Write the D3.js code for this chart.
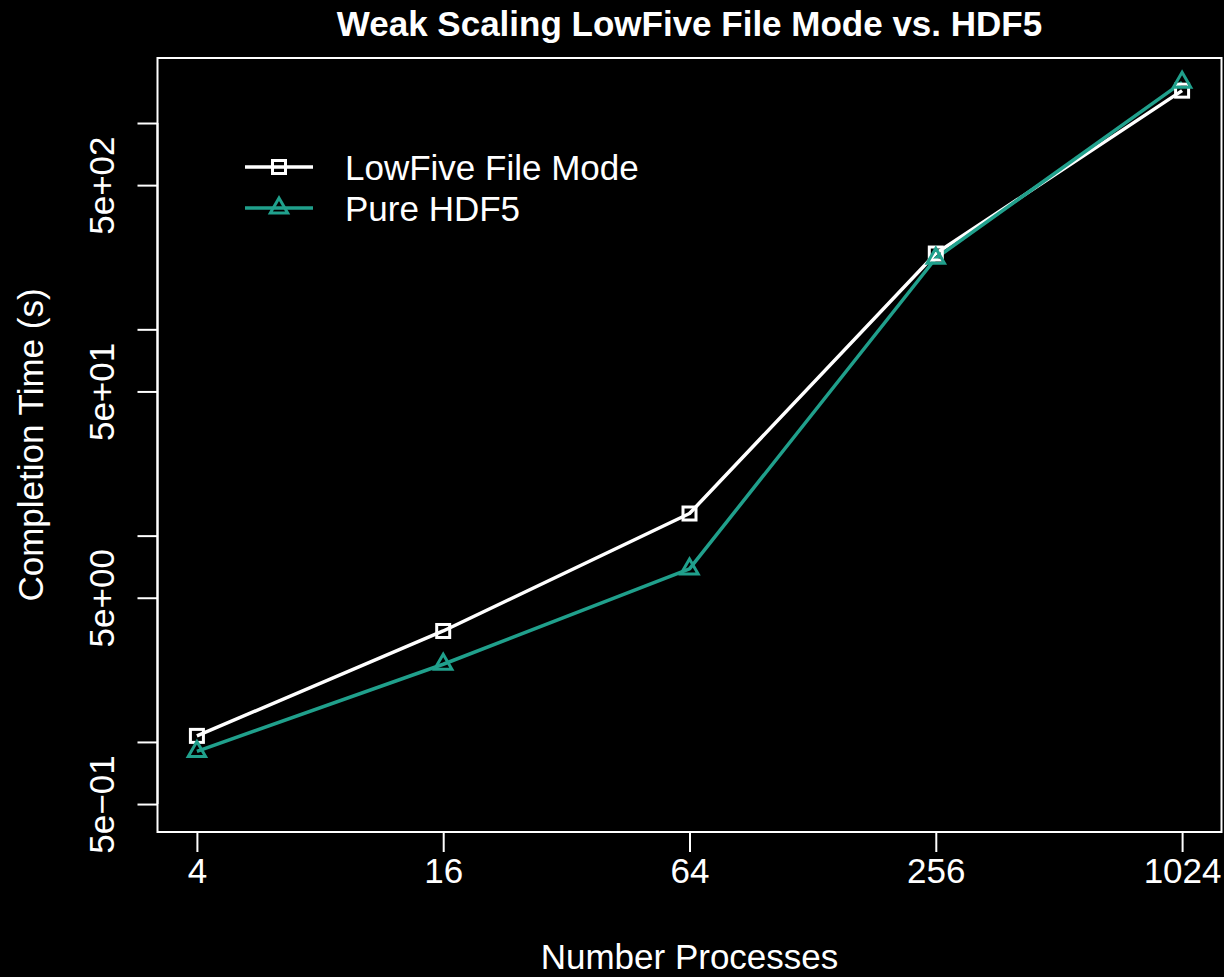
<!DOCTYPE html>
<html>
<head>
<meta charset="utf-8">
<script src="https://cdn.jsdelivr.net/npm/d3@7"></script>
<style>
  html, body { margin: 0; padding: 0; background: #000; }
  svg { display: block; font-family: "Liberation Sans", Arial, Helvetica, sans-serif; }
</style>
</head>
<body>
<svg id="chart" width="1224" height="977"></svg>
<script>
// ---- data ----
const categories = ["4", "16", "64", "256", "1024"];
const lowFive = [1.07, 3.45, 12.8, 233, 1435];
const pureHDF5 = [0.90, 2.38, 6.9, 221, 1574];
const seriesNames = ["LowFive File Mode", "Pure HDF5"];
const seriesColors = ["#ffffff", "#20a08c"];
const yTicks = [0.5, 1, 5, 10, 50, 100, 500, 1000];
const yTickLabels = ["5e\u221201", "", "5e+00", "", "5e+01", "", "5e+02", ""];

const title = "Weak Scaling LowFive File Mode vs. HDF5";
const xTitle = "Number Processes";
const yTitle = "Completion Time (s)";

// ---- layout ----
const W = 1224, H = 977;
const plot = { left: 157.5, right: 1221.5, top: 58, bottom: 832 };
const svg = d3.select("#chart");
svg.append("rect").attr("width", W).attr("height", H).attr("fill", "#000");

const x = d3.scaleLinear().domain([0.84, 5.16]).range([plot.left, plot.right]);
const y = d3.scaleLog().domain([0.366, 2066]).range([plot.bottom, plot.top]);

const fontSize = 35;
const fontFam = "Liberation Sans, Arial, Helvetica, sans-serif";

// box
svg.append("rect")
  .attr("x", plot.left).attr("y", plot.top)
  .attr("width", plot.right - plot.left).attr("height", plot.bottom - plot.top)
  .attr("fill", "none").attr("stroke", "#fff").attr("stroke-width", 2);

// x axis
const xAxis = d3.axisBottom(x)
  .tickValues(categories.map((d, i) => i + 1))
  .tickFormat((d, i) => categories[i])
  .tickSize(20).tickPadding(6);
const gx = svg.append("g").attr("transform", `translate(0,${plot.bottom})`).call(xAxis);
gx.select(".domain").attr("stroke", "#fff").attr("stroke-width", 2)
  .attr("d", `M${x(1)},0H${x(5)}`);
gx.selectAll(".tick line").attr("stroke", "#fff").attr("stroke-width", 2);
gx.selectAll(".tick text").attr("fill", "#fff").attr("font-size", fontSize)
  .attr("font-family", fontFam);

// y axis
const yAxis = d3.axisLeft(y).tickValues(yTicks)
  .tickFormat((d, i) => yTickLabels[i]).tickSize(20).tickPadding(0);
const gy = svg.append("g").attr("transform", `translate(${plot.left},0)`).call(yAxis);
gy.select(".domain").attr("stroke", "#fff").attr("stroke-width", 2)
  .attr("d", `M0,${y(yTicks[0])}V${y(yTicks[yTicks.length - 1])}`);
gy.selectAll(".tick line").attr("stroke", "#fff").attr("stroke-width", 2);
gy.selectAll(".tick text")
  .attr("fill", "#fff").attr("font-size", fontSize)
  .attr("font-family", fontFam)
  .attr("x", null).attr("dy", null)
  .attr("text-anchor", "middle")
  .attr("transform", "translate(-44,0) rotate(-90)");

// lines
const line = d3.line().x((d, i) => x(i + 1)).y(d => y(d));
const allSeries = [lowFive, pureHDF5];
allSeries.forEach((vals, s) => {
  svg.append("path").datum(vals)
    .attr("d", line).attr("fill", "none")
    .attr("stroke", seriesColors[s]).attr("stroke-width", 3.5)
    .attr("stroke-linejoin", "round");
});

function square(g, cx, cy, color) {
  g.append("rect").attr("x", cx - 6.5).attr("y", cy - 6.5)
    .attr("width", 13).attr("height", 13)
    .attr("fill", "none").attr("stroke", color).attr("stroke-width", 3);
}
function triangle(g, cx, cy, color) {
  const r = 10, xc = r * Math.sqrt(3) / 2;
  g.append("path")
    .attr("d", `M${cx},${cy - r}L${cx + xc},${cy + r / 2}L${cx - xc},${cy + r / 2}Z`)
    .attr("fill", "none").attr("stroke", color).attr("stroke-width", 3)
    .attr("stroke-linejoin", "miter");
}
const markers = [square, triangle];
allSeries.forEach((vals, s) => {
  const g = svg.append("g");
  vals.forEach((v, i) => markers[s](g, x(i + 1), y(v), seriesColors[s]));
});

// legend
const legY = [167, 208];
seriesNames.forEach((name, s) => {
  const g = svg.append("g");
  g.append("line").attr("x1", 245).attr("x2", 313).attr("y1", legY[s]).attr("y2", legY[s])
    .attr("stroke", seriesColors[s]).attr("stroke-width", 3.5);
  markers[s](g, 279, legY[s], seriesColors[s]);
  g.append("text").attr("x", 345).attr("y", legY[s] + 12.5)
    .attr("fill", "#fff").attr("font-size", fontSize).text(name);
});

// titles
svg.append("text").attr("x", (plot.left + plot.right) / 2).attr("y", 36)
  .attr("text-anchor", "middle").attr("fill", "#fff")
  .attr("font-size", fontSize).attr("font-weight", "bold").text(title);
svg.append("text").attr("x", (plot.left + plot.right) / 2).attr("y", 969)
  .attr("text-anchor", "middle").attr("fill", "#fff")
  .attr("font-size", fontSize).text(xTitle);
svg.append("text")
  .attr("transform", `translate(43,${(plot.top + plot.bottom) / 2}) rotate(-90)`)
  .attr("text-anchor", "middle").attr("fill", "#fff")
  .attr("font-size", fontSize).text(yTitle);
</script>
</body>
</html>
